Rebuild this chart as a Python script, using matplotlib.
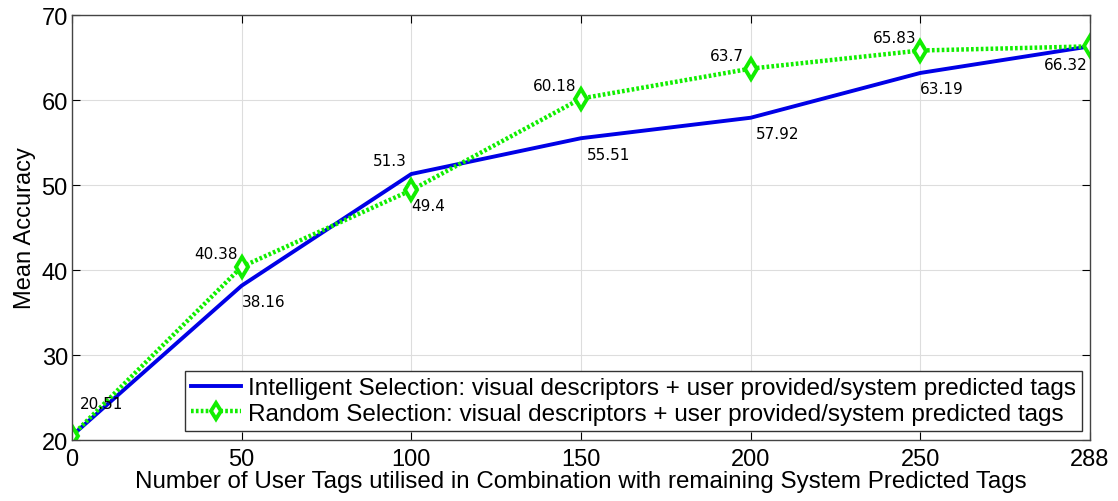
import matplotlib.pyplot as plt

# number of user tags (equally spaced categories on the x axis)
tag_counts = ['0', '50', '100', '150', '200', '250', '288']
intelligent = [20.51, 38.16, 51.3, 55.51, 57.92, 63.19, 66.32]
random_sel = [20.51, 40.38, 49.4, 60.18, 63.7, 65.83, 66.32]

# label offsets in points (dx, dy, ha, va)
intel_offsets = [None, (0, -6, 'left', 'top'), (-3, 4, 'right', 'bottom'),
                 (4, -6, 'left', 'top'), (4, -6, 'left', 'top'),
                 (0, -6, 'left', 'top'), (-2, -8, 'right', 'top')]
random_offsets = [(6, 18, 'left', 'bottom'), (-3, 4, 'right', 'bottom'),
                  (0, -6, 'left', 'top'), (-3, 4, 'right', 'bottom'),
                  (-5, 4, 'right', 'bottom'), (-3, 4, 'right', 'bottom'), None]

plt.rcParams['font.family'] = ['Liberation Sans', 'DejaVu Sans']

fig = plt.figure(figsize=(11.18, 5.02), dpi=100)
ax = fig.add_axes([0.0644, 0.1215, 0.9106, 0.8465])

x = list(range(len(tag_counts)))
ax.plot(x, intelligent, color='#0000e6', lw=2.8,
        label='Intelligent Selection: visual descriptors + user provided/system predicted tags')
ax.plot(x, random_sel, color='#11ee00', lw=3.2, ls=(0, (0.6, 0.5)), marker='d', ms=10,
        mfc='white', mec='#11ee00', mew=2.8,
        label='Random Selection: visual descriptors + user provided/system predicted tags')

for xi, v, off in zip(x, intelligent, intel_offsets):
    if off:
        ax.annotate(f'{v:g}', (xi, v), xytext=off[:2], textcoords='offset points',
                    ha=off[2], va=off[3], fontsize=11, family='DejaVu Sans')
for xi, v, off in zip(x, random_sel, random_offsets):
    if off:
        ax.annotate(f'{v:g}', (xi, v), xytext=off[:2], textcoords='offset points',
                    ha=off[2], va=off[3], fontsize=11, family='DejaVu Sans')

ax.set_xlim(0, 6)
ax.set_ylim(20, 70)
ax.set_xticks(x)
ax.set_xticklabels(tag_counts)
ax.set_yticks(range(20, 71, 10))
ax.tick_params(direction='in', top=True, right=True, labelsize=17, length=6)
ax.tick_params(axis='x', pad=6)
ax.tick_params(axis='y', pad=3)
ax.grid(True, color='#dddddd', lw=0.8)
for s in ax.spines.values():
    s.set_color('#444444')
    s.set_linewidth(1.0)

ax.set_xlabel('Number of User Tags utilised in Combination with remaining System Predicted Tags',
              fontsize=17.4, labelpad=0)
ax.set_ylabel('Mean Accuracy', fontsize=17, labelpad=4)

leg = ax.legend(loc='lower right', bbox_to_anchor=(0.992, 0.021), borderaxespad=0,
                fontsize=17.5, fancybox=False, framealpha=1, edgecolor='#333333',
                handlelength=2.05, borderpad=0.25, labelspacing=0.15, handletextpad=0.3,
                markerscale=0.8)
leg.get_frame().set_linewidth(1.0)

fig.savefig('out.png', dpi=100)
